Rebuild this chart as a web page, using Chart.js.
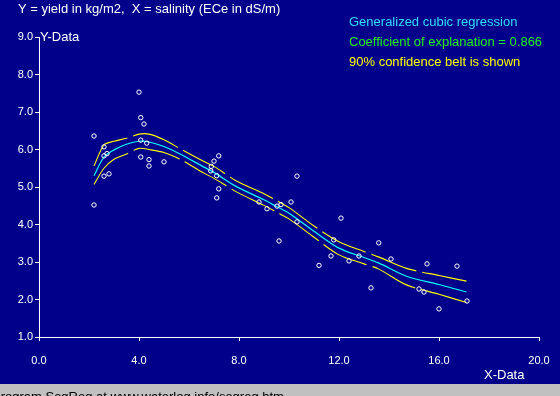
<!DOCTYPE html>
<html>
<head>
<meta charset="utf-8">
<title>SegReg - generalized cubic regression</title>
<script src="https://cdn.jsdelivr.net/npm/chart.js@4"></script>
<style>
  html, body { margin: 0; padding: 0; background: #00008b; }
  canvas { display: block; }
</style>
</head>
<body>
<canvas id="chart" width="560" height="396"></canvas>
<script>
// observed data: X = salinity (ECe in dS/m), Y = yield (kg/m2)
const obsX = [2.2, 2.2, 2.6, 2.6, 2.72, 2.6, 2.8,
              4.0, 4.07, 4.2, 4.07, 4.31, 4.07, 4.4, 4.4, 5.0,
              6.87, 6.89, 7.0, 7.19, 7.11, 7.19, 7.11,
              8.8, 9.12, 9.52, 9.68, 9.6, 10.08, 10.32, 10.32,
              11.2, 11.68, 11.79, 12.08, 12.4, 12.8, 13.28, 13.59, 14.08,
              15.2, 15.4, 15.52, 16.0, 16.72, 17.12];
const obsY = [6.36, 4.52, 6.07, 5.83, 5.89, 5.29, 5.35,
              7.53, 6.85, 6.68, 6.25, 6.17, 5.80, 5.73, 5.56, 5.67,
              5.43, 5.55, 5.69, 5.83, 5.30, 4.95, 4.71,
              4.60, 4.42, 4.49, 4.53, 3.56, 4.60, 5.29, 4.07,
              2.91, 3.16, 3.59, 4.17, 3.03, 3.16, 2.31, 3.51, 3.08,
              2.28, 2.20, 2.95, 1.75, 2.89, 1.96];

// fitted cubic curve and its 90% confidence belt
const fitX      = [2.2, 2.6, 3.0, 3.5, 4.0, 4.4, 5.0, 5.7, 6.6, 7.0, 7.9, 9.0, 9.5, 10.0, 11.0, 12.0, 13.0, 13.6, 14.7, 16.0, 17.1];
const fitY      = [5.30, 5.80, 5.99, 6.14, 6.22, 6.20, 6.08, 5.86, 5.53, 5.39, 5.01, 4.66, 4.48, 4.30, 3.82, 3.37, 3.12, 2.97, 2.62, 2.40, 2.20];
const beltUpper = [5.56, 6.12, 6.22, 6.30, 6.41, 6.41, 6.26, 6.00, 5.68, 5.55, 5.16, 4.82, 4.64, 4.45, 3.96, 3.54, 3.28, 3.13, 2.83, 2.64, 2.49];
const beltLower = [5.07, 5.50, 5.74, 5.88, 6.03, 6.00, 5.92, 5.72, 5.37, 5.23, 4.87, 4.51, 4.33, 4.15, 3.66, 3.19, 2.95, 2.81, 2.39, 2.14, 1.92];

const xTicks = [0, 4, 8, 12, 16, 20];
const yTicks = [1, 2, 3, 4, 5, 6, 7, 8, 9];

const BG = '#00008b';
const FONT = "'Liberation Sans', Arial, sans-serif";

Chart.defaults.font.family = FONT;

function toPoints(xs, ys) {
    return xs.map((x, i) => ({ x: x, y: ys[i] }));
}

// background, captions and the grey status strip at the bottom
const decorPlugin = {
    id: 'decor',
    beforeDraw(chart) {
        const ctx = chart.ctx;
        ctx.save();
        ctx.fillStyle = BG;
        ctx.fillRect(0, 0, chart.width, chart.height);
        ctx.restore();
    },
    afterDraw(chart) {
        const ctx = chart.ctx;
        const area = chart.chartArea;
        ctx.save();
        ctx.font = '13px ' + FONT;
        ctx.textAlign = 'left';
        ctx.textBaseline = 'alphabetic';

        ctx.fillStyle = '#ffffff';
        ctx.fillText('Y = yield in kg/m2,  X = salinity (ECe in dS/m)', 18, 13);
        ctx.fillText('Y-Data', area.left + 1, area.top + 4);
        ctx.fillText('X-Data', 484, 379);

        ctx.fillStyle = '#33ddff';
        ctx.fillText('Generalized cubic regression', 349, 26);
        ctx.fillStyle = '#22ee22';
        ctx.fillText('Coefficient of explanation = 0.866', 349, 46);
        ctx.fillStyle = '#ffff00';
        ctx.fillText('90% confidence belt is shown', 349, 66);

        ctx.fillStyle = '#c0c0c0';
        ctx.fillRect(0, 384, chart.width, chart.height - 384);
        ctx.fillStyle = '#000000';
        ctx.fillText('Program SegReg at www.waterlog.info/segreg.htm', -8, 401);
        ctx.restore();
    }
};

const axisGrid = {
    display: true,
    drawOnChartArea: false,
    drawTicks: true,
    tickLength: 4,
    color: '#ffffff'
};

new Chart(document.getElementById('chart'), {
    type: 'scatter',
    data: {
        datasets: [
            {
                label: 'data',
                data: toPoints(obsX, obsY),
                pointRadius: 2.2,
                pointBorderWidth: 1,
                pointBorderColor: '#ffffff',
                pointBackgroundColor: 'transparent',
                showLine: false
            },
            {
                label: 'regression',
                data: toPoints(fitX, fitY),
                showLine: true,
                borderColor: '#00ffff',
                borderWidth: 1.2,
                pointRadius: 0,
                tension: 0.3
            },
            {
                label: 'upper belt',
                data: toPoints(fitX, beltUpper),
                showLine: true,
                borderColor: '#ffff00',
                borderWidth: 1.1,
                borderDash: [48, 6],
                pointRadius: 0,
                tension: 0.3
            },
            {
                label: 'lower belt',
                data: toPoints(fitX, beltLower),
                showLine: true,
                borderColor: '#ffff00',
                borderWidth: 1.1,
                borderDash: [48, 6],
                pointRadius: 0,
                tension: 0.3
            }
        ]
    },
    options: {
        responsive: false,
        animation: false,
        devicePixelRatio: 1,
        layout: { padding: { left: 0, top: 37, right: 21, bottom: 0 } },
        plugins: {
            legend: { display: false },
            tooltip: { enabled: false }
        },
        scales: {
            x: {
                type: 'linear',
                min: 0,
                max: 20,
                afterBuildTicks: s => { s.ticks = xTicks.map(v => ({ value: v })); },
                afterFit: s => {
                    // fixed box, so label padding does not shrink the plot
                    s.height = 59;
                    s.paddingLeft = 0;
                    s.paddingRight = 0;
                },
                grid: axisGrid,
                border: { display: true, color: '#ffffff', width: 1 },
                ticks: {
                    color: '#ffffff',
                    font: { size: 11 },
                    padding: 13,
                    maxRotation: 0,
                    autoSkip: false,
                    callback: v => v.toFixed(1)
                }
            },
            y: {
                type: 'linear',
                min: 1,
                max: 9,
                afterBuildTicks: s => { s.ticks = yTicks.map(v => ({ value: v })); },
                afterFit: s => { s.width = 39; },
                grid: axisGrid,
                border: { display: true, color: '#ffffff', width: 1 },
                ticks: {
                    color: '#ffffff',
                    font: { size: 11 },
                    padding: 2,
                    autoSkip: false,
                    callback: v => v.toFixed(1)
                }
            }
        }
    },
    plugins: [decorPlugin]
});
</script>
</body>
</html>
